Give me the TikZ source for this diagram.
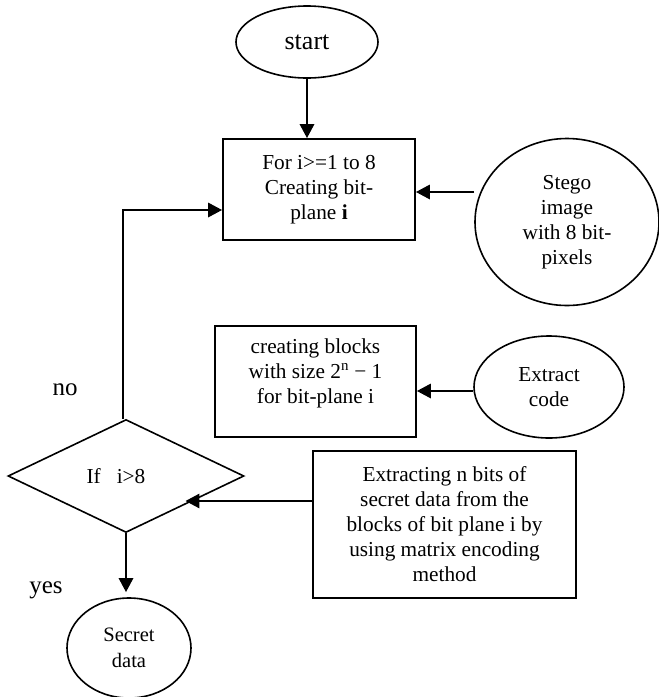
\documentclass[tikz,border=0pt]{standalone}
\usepackage{fontspec}
\setmainfont{Liberation Serif}
\usetikzlibrary{shapes.geometric,arrows.meta}
\begin{document}
\begin{tikzpicture}[x=1pt,y=-1pt,
  shapeline/.style={draw=black,line width=1.6pt},
  boxnode/.style={shapeline,rectangle,inner sep=0pt,align=center,font=\fontsize{21.3}{25}\selectfont},
  ellnode/.style={shapeline,ellipse,inner sep=0pt,align=center,font=\fontsize{21.3}{25}\selectfont},
  dnode/.style={shapeline,diamond,inner sep=0pt,font=\fontsize{21.3}{25}\selectfont},
  conn/.style={line width=2.8pt,-{Triangle[length=14pt,width=14pt]}},
  lbl/.style={font=\fontsize{25}{30}\selectfont}]
\useasboundingbox (0,0) rectangle (659,697);
\node[ellnode,minimum width=142pt,minimum height=72pt,font=\fontsize{26}{30}\selectfont] (st) at (307,42) {start};
\node[boxnode,minimum width=192pt,minimum height=101pt] (b1) at (319,189.5) {For i>=1 to 8\\Creating bit-\\plane \textbf{i}};
\node[ellnode,minimum width=184pt,minimum height=167pt] (sg) at (567,222) {Stego\\image\\with 8 bit-\\pixels};
\node[boxnode,minimum width=201pt,minimum height=111pt] (b2) at (315.5,381.5) {\raisebox{8pt}[\height][\depth]{\begin{tabular}{@{}c@{}}creating blocks\\with size 2\textsuperscript{n} − 1\\for bit-plane i\end{tabular}}};
\node[ellnode,minimum width=150pt,minimum height=102pt] (ex) at (549,387) {Extract\\code};
\node[boxnode,minimum width=263pt,minimum height=147pt] (b3) at (444.5,524.5) {Extracting n bits of\\secret data from the\\blocks of bit plane i by\\using matrix encoding\\method};
\node[dnode,minimum width=236pt,minimum height=113pt] (d) at (126,476) {If~~~i>8\hspace*{20pt}};
\node[ellnode,minimum width=124pt,minimum height=100pt,font=\fontsize{20.5}{26}\selectfont] (se) at (129,648) {Secret\\data};
\node[lbl] (no) at (65,390) {no};
\node[lbl] (yes) at (46,590) {yes};
\draw[conn] (st.south) -- (st.south |- b1.north);
\draw[conn] ([yshift=30pt]sg.west) -- ([yshift=30pt]sg.west -| b1.east);
\draw[conn] ([yshift=-4pt]ex.west) -- ([yshift=-4pt]ex.west -| b2.east);
\draw[conn] ([yshift=23.5pt]b3.west) -- ([yshift=23.5pt]b3.west -| d.south east);
\draw[conn,shorten >=5pt] (d.south) -- (d.south |- se.north);
\draw[conn] ([xshift=-3pt]d.north) |- ([yshift=-20.5pt]b1.west);
\end{tikzpicture}
\end{document}
